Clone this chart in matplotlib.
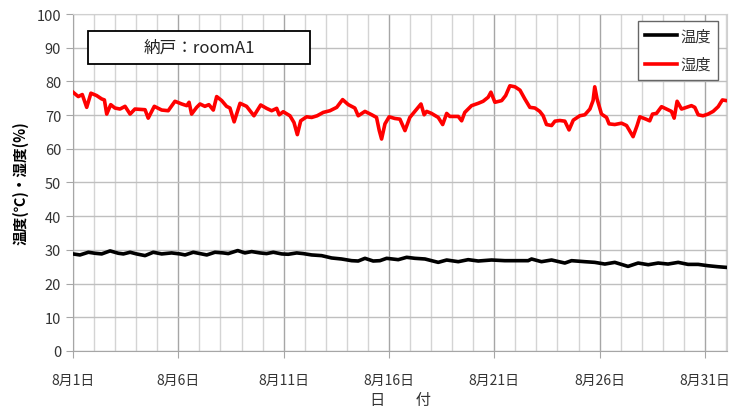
import matplotlib
matplotlib.use("Agg")
import matplotlib.pyplot as plt
from matplotlib.ticker import MultipleLocator
from matplotlib.patches import Rectangle

plt.rcParams['font.family'] = ['Noto Sans CJK JP', 'DejaVu Sans']

# elapsed days since 8/1 00:00 and humidity (%)
hum_t = [0.0, 0.25, 0.44, 0.65, 0.85, 1.12, 1.36, 1.49, 1.60, 1.79, 1.99, 2.23,
         2.47, 2.71, 2.94, 3.42, 3.57, 3.86, 4.21, 4.52, 4.84, 5.16, 5.40, 5.51,
         5.63, 5.87, 6.03, 6.26, 6.45, 6.66, 6.82, 7.06, 7.29, 7.45, 7.65, 7.93,
         8.24, 8.59, 8.91, 9.19, 9.43, 9.67, 9.79, 9.98, 10.30, 10.49, 10.65, 10.81,
         11.09, 11.33, 11.59, 11.88, 12.20, 12.52, 12.80, 13.07, 13.38, 13.54, 13.86,
         14.18, 14.41, 14.54, 14.65, 14.81, 15.01, 15.28, 15.52, 15.76, 15.99, 16.23,
         16.52, 16.67, 16.79, 17.02, 17.34, 17.55, 17.74, 17.89, 18.29, 18.45, 18.60,
         18.92, 19.24, 19.47, 19.71, 19.84, 20.03, 20.35, 20.54, 20.74, 20.98, 21.22,
         21.45, 21.69, 21.93, 22.16, 22.32, 22.48, 22.72, 22.88, 23.11, 23.35, 23.55,
         23.75, 24.06, 24.30, 24.54, 24.69, 24.77, 24.88, 25.09, 25.33, 25.45, 25.72,
         26.04, 26.28, 26.40, 26.59, 26.78, 26.91, 27.20, 27.38, 27.51, 27.70, 27.94,
         28.18, 28.41, 28.54, 28.68, 28.89, 29.13, 29.36, 29.52, 29.68, 29.91, 30.15,
         30.39, 30.63, 30.83, 31.02]
hum_v = [76.8, 75.5, 76.1, 72.3, 76.5, 75.8, 74.8, 74.5, 70.3, 73.1, 72.1, 71.8,
         72.6, 70.3, 71.8, 71.6, 69.1, 72.6, 71.5, 71.3, 74.1, 73.3, 72.8, 73.8,
         70.3, 72.3, 73.3, 72.6, 73.1, 71.5, 75.5, 74.3, 72.6, 72.1, 68.0, 73.5,
         72.6, 69.8, 73.0, 72.0, 71.3, 72.0, 70.1, 71.0, 69.8, 67.8, 64.2, 68.3,
         69.5, 69.3, 69.8, 70.8, 71.3, 72.3, 74.6, 73.1, 72.1, 69.8, 71.1,
         70.1, 69.3, 65.4, 62.9, 67.4, 69.5, 69.0, 68.8, 65.4, 69.3, 71.1,
         73.3, 70.1, 71.1, 70.5, 69.3, 67.2, 70.5, 69.6, 69.6, 68.3, 70.8,
         72.8, 73.5, 74.1, 75.3, 76.8, 73.8, 74.3, 75.8, 78.7, 78.4, 77.4,
         74.8, 72.3, 72.1, 71.1, 69.8, 67.2, 66.9, 68.2, 68.4, 68.2, 65.6,
         68.5, 69.8, 70.1, 71.8, 74.3, 78.4, 74.8, 70.3, 69.3, 67.4, 67.2,
         67.6, 66.9, 65.6, 63.6, 66.9, 69.5, 68.8, 68.3, 70.3, 70.5, 72.5,
         71.8, 71.1, 69.1, 74.1, 71.8, 72.3, 72.8, 72.3, 70.1, 69.8, 70.3,
         71.1, 72.5, 74.5, 74.3]

# elapsed days and temperature (deg C)
tmp_t = [0.0, 0.33, 0.73, 1.04, 1.36, 1.76, 2.15, 2.39, 2.71, 3.02, 3.42, 3.81,
         4.21, 4.68, 5.08, 5.32, 5.71, 6.11, 6.35, 6.74, 7.13, 7.37, 7.82, 8.16,
         8.48, 8.88, 9.19, 9.51, 9.91, 10.22, 10.62, 10.93, 11.33, 11.80, 12.28,
         12.75, 13.23, 13.54, 13.86, 14.25, 14.57, 14.89, 15.44, 15.84, 16.23,
         16.71, 17.34, 17.74, 18.29, 18.76, 19.24, 19.87, 20.50, 21.61, 21.77,
         22.24, 22.72, 23.35, 23.67, 24.30, 24.77, 25.25, 25.72, 26.35, 26.83,
         27.31, 27.78, 28.25, 28.73, 29.20, 29.68, 30.15, 30.63, 31.03]
tmp_v = [28.8, 28.5, 29.3, 29.0, 28.8, 29.7, 29.0, 28.8, 29.3, 28.8, 28.3, 29.3,
         28.8, 29.1, 28.8, 28.5, 29.3, 28.8, 28.5, 29.3, 29.1, 28.9, 29.8, 29.1,
         29.5, 29.1, 28.9, 29.3, 28.8, 28.7, 29.1, 28.9, 28.5, 28.3, 27.6,
         27.3, 26.8, 26.7, 27.5, 26.7, 26.8, 27.5, 27.1, 27.8, 27.5,
         27.3, 26.3, 27.0, 26.5, 27.1, 26.7, 27.0, 26.8, 26.8, 27.3,
         26.5, 27.0, 26.1, 26.8, 26.5, 26.3, 25.8, 26.3, 25.1, 26.1,
         25.6, 26.1, 25.8, 26.3, 25.7, 25.7, 25.3, 25.0, 24.8]

tick_days = [1, 6, 11, 16, 21, 26, 31]
tick_labels = ['8月%d日' % d for d in tick_days]

fig = plt.figure(figsize=(7.39, 4.10), dpi=100)
ax = fig.add_axes([0.0988, 0.1415, 0.885, 0.8219])

ax.plot([1 + t for t in tmp_t], tmp_v, color='black', lw=2.6, label='温度', zorder=3)
ax.plot([1 + t for t in hum_t], hum_v, color='#ff0000', lw=2.6, label='湿度', zorder=3)

ax.set_xlim(1, 32.05)
ax.set_ylim(0, 100)
ax.yaxis.set_major_locator(MultipleLocator(10))
ax.set_xticks(tick_days)
ax.set_xticklabels(tick_labels)
ax.xaxis.set_minor_locator(MultipleLocator(1))

ax.grid(which='minor', axis='x', color='#d4d4d4', lw=1.0)
ax.grid(which='major', axis='x', color='#a6a6a6', lw=1.0)
ax.grid(which='major', axis='y', color='#bfbfbf', lw=1.0)
ax.set_axisbelow(True)

for s in ['top', 'right']:
    ax.spines[s].set_color('#d0d0d0')
for s in ['left', 'bottom']:
    ax.spines[s].set_color('#a6a6a6')
ax.tick_params(axis='both', which='major', length=5, color='#a6a6a6', labelsize=10.5,
               labelcolor='#333333')
ax.tick_params(axis='x', which='minor', length=0)
ax.tick_params(axis='x', pad=11, labelsize=10)

fig.text(400 / 739, 1 - 401 / 410, '日　　付', fontsize=11, color='#333333',
         ha='center', va='center')
ax.set_ylabel('温度(℃)・湿度(%)', fontsize=10.5, fontweight='bold', labelpad=6)

# title box
ax.add_patch(Rectangle((0.023, 0.852), 0.339, 0.098, transform=ax.transAxes,
                       fc='white', ec='black', lw=1.3, zorder=5))
ax.text(0.1925, 0.901, '納戸：roomA1', transform=ax.transAxes, ha='center', va='center',
        fontsize=12, color='#222222', zorder=6)

leg = ax.legend(loc='upper right', bbox_to_anchor=(0.986, 0.980), fancybox=False,
                edgecolor='#666666', framealpha=1, fontsize=11, handlelength=2.1,
                handletextpad=0.2, borderpad=0.45, labelspacing=0.75,
                borderaxespad=0)
leg.get_frame().set_linewidth(1.0)
for txt in leg.get_texts():
    txt.set_color('#333333')

fig.savefig('out.png', dpi=100)
